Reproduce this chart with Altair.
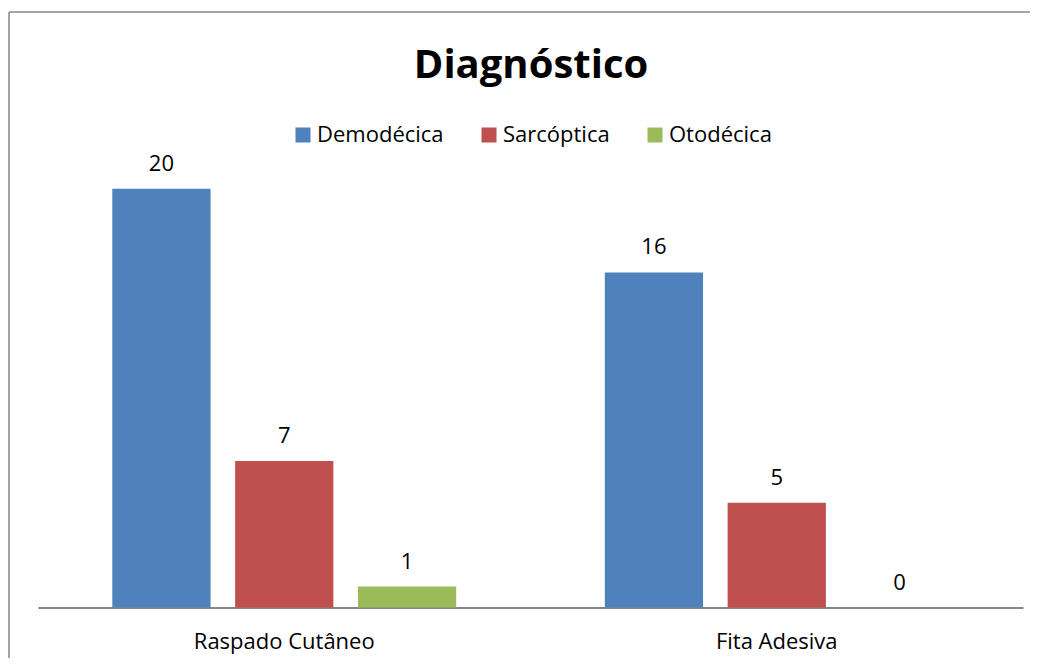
import altair as alt
import pandas as pd

categories = ["Raspado Cutâneo", "Fita Adesiva"]
series = ["Demodécica", "Sarcóptica", "Otodécica"]
demodecica = [20, 16]
sarcoptica = [7, 5]
otodecica = [1, 0]
colors = ["#4F81BD", "#C0504D", "#9BBB59"]
title_text = "Diagnóstico"

rows = []
for i, c in enumerate(categories):
    for s, vals in zip(series, [demodecica, sarcoptica, otodecica]):
        rows.append({"categoria": c, "serie": s, "valor": vals[i]})
df = pd.DataFrame(rows)

FONT = "Open Sans"

x = alt.X("categoria:N", sort=categories, title=None,
          scale=alt.Scale(paddingInner=0, paddingOuter=0),
          axis=alt.Axis(labelAngle=0, ticks=False, tickSize=0, labelPadding=34,
                        labelBaseline="middle", labelFontSize=22, labelFont=FONT,
                        labelLimit=400,
                        labelColor="#000000", domainColor="#868686", domainWidth=2,
                        grid=False))
xo = alt.XOffset("serie:N", sort=series,
                 scale=alt.Scale(paddingInner=0.2, paddingOuter=0.605))
y = alt.Y("valor:Q", scale=alt.Scale(domain=[0, 25]), axis=None)

bars = alt.Chart(df).mark_bar().encode(
    x=x, xOffset=xo, y=y,
    color=alt.Color("serie:N", sort=series,
                    scale=alt.Scale(domain=series, range=colors),
                    legend=alt.Legend(title=None, orient="none", direction="horizontal",
                                      legendX=254, legendY=40, symbolType="square",
                                      symbolSize=225, symbolStrokeWidth=0,
                                      labelFontSize=22, labelFont=FONT,
                                      labelColor="#000000", labelOffset=3,
                                      columnPadding=34, padding=0)),
)

labels = alt.Chart(df).mark_text(baseline="middle", dy=-25, fontSize=22,
                                 font=FONT, color="#000000").encode(
    x=x, xOffset=xo, y=y, text="valor:Q"
)

one = pd.DataFrame({"t": [title_text]})

title = alt.Chart(one).mark_text(baseline="middle", align="center", fontSize=40,
                                 font=FONT, fontWeight="bold", color="#000000").encode(
    x=alt.value(493), y=alt.value(-18), text="t:N"
)

border_left = alt.Chart(one).mark_rule(stroke="#868686", strokeWidth=1.5).encode(
    x=alt.value(-29), y=alt.value(-72), y2=alt.value(580)
)
border_top = alt.Chart(one).mark_rule(stroke="#868686", strokeWidth=1.5).encode(
    x=alt.value(-29), x2=alt.value(992), y=alt.value(-72)
)

chart = alt.layer(border_left, border_top, bars, labels, title).properties(
    width=985, height=523.5,
    autosize=alt.AutoSizeParams(type="none"),
    padding={"left": 30, "top": 76, "right": 7, "bottom": 50},
).configure_view(stroke=None)

chart.save("out.html", embed_options={"renderer": "svg", "actions": False})
